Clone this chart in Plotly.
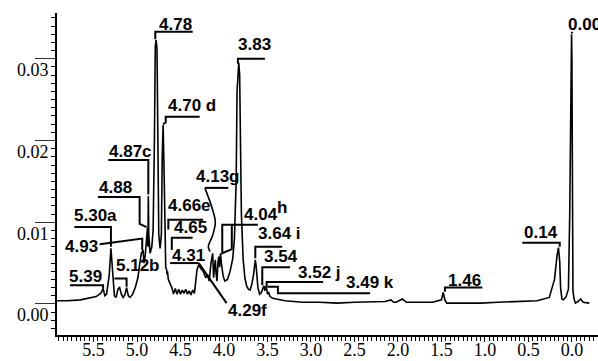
import plotly.graph_objects as go

# 1H NMR spectrum trace: chemical shift (ppm) and intensity
ppm = [
    5.92, 5.80, 5.65, 5.55, 5.47, 5.43, 5.41, 5.39, 5.37, 5.35, 5.32, 5.30, 5.28,
    5.26, 5.24, 5.22, 5.20, 5.18, 5.16, 5.14, 5.12, 5.10, 5.08, 5.05, 5.02, 4.99,
    4.97, 4.95, 4.93, 4.92, 4.905, 4.89, 4.88, 4.875, 4.87, 4.865, 4.85, 4.83,
    4.815, 4.80, 4.79, 4.78, 4.77, 4.76, 4.75, 4.735, 4.72, 4.71, 4.70, 4.69,
    4.68, 4.67, 4.66, 4.655, 4.65, 4.64, 4.62, 4.60, 4.58, 4.56, 4.54, 4.52, 4.50,
    4.48, 4.46, 4.44, 4.42, 4.40, 4.38, 4.36, 4.34, 4.33, 4.31, 4.29, 4.27, 4.24,
    4.21, 4.19, 4.17, 4.15, 4.14, 4.13, 4.12, 4.11, 4.10, 4.09, 4.08, 4.07, 4.06,
    4.05, 4.04, 4.03, 4.01, 3.99, 3.96, 3.93, 3.90, 3.88, 3.86, 3.85, 3.84, 3.83,
    3.82, 3.81, 3.80, 3.78, 3.76, 3.74, 3.72, 3.70, 3.68, 3.66, 3.65, 3.64, 3.63,
    3.62, 3.61, 3.59, 3.57, 3.55, 3.54, 3.53, 3.52, 3.51, 3.50, 3.49, 3.47, 3.44,
    3.40, 3.35, 3.30, 3.20, 3.10, 2.90, 2.70, 2.50, 2.30, 2.15, 2.08, 2.05, 2.02,
    1.95, 1.90, 1.87, 1.75, 1.60, 1.50, 1.48, 1.46, 1.44, 1.42, 1.25, 1.05, 0.85,
    0.60, 0.40, 0.26, 0.20, 0.17, 0.155, 0.14, 0.13, 0.115, 0.10, 0.07, 0.04,
    0.025, 0.012, 0.004, 0.00, -0.004, -0.012, -0.025, -0.04, -0.07, -0.10, -0.13,
    -0.17, -0.20, -0.25, -0.30,
]
intensity = [
    0.0004, 0.0004, 0.0005, 0.0007, 0.0009, 0.0012, 0.0014, 0.0019, 0.0010, 0.0012,
    0.0035, 0.0068, 0.0035, 0.0010, 0.0008, 0.0018, 0.0020, 0.0012, 0.0008, 0.0011,
    0.0020, 0.0010, 0.0008, 0.0012, 0.0020, 0.0032, 0.0048, 0.0062, 0.0066, 0.0050,
    0.0060, 0.0085, 0.0093, 0.0070, 0.0132, 0.0085, 0.0062, 0.0070, 0.0090, 0.0200,
    0.0315, 0.0323, 0.0312, 0.0200, 0.0085, 0.0068, 0.0085, 0.0180, 0.0219, 0.0170,
    0.0070, 0.0045, 0.0042, 0.0036, 0.0040, 0.0030, 0.0025, 0.0020, 0.0012, 0.0019,
    0.0012, 0.0018, 0.0012, 0.0017, 0.0013, 0.0018, 0.0012, 0.0016, 0.0011, 0.0017,
    0.0013, 0.0025, 0.0042, 0.0048, 0.0044, 0.0040, 0.0032, 0.0036, 0.0028, 0.0050,
    0.0058, 0.0062, 0.0032, 0.0040, 0.0054, 0.0036, 0.0028, 0.0050, 0.0058, 0.0045,
    0.0062, 0.0050, 0.0034, 0.0028, 0.0030, 0.0040, 0.0055, 0.0080, 0.0150, 0.0260,
    0.0290, 0.0295, 0.0280, 0.0180, 0.0110, 0.0055, 0.0032, 0.0022, 0.0018, 0.0017,
    0.0024, 0.0036, 0.0048, 0.0054, 0.0046, 0.0032, 0.0020, 0.0012, 0.0014, 0.0020,
    0.0022, 0.0016, 0.0021, 0.0019, 0.0012, 0.0015, 0.0009, 0.0007, 0.0006, 0.0005,
    0.0004, 0.0003, 0.0002, 0.0002, 0.0001, 0.0002, 0.0003, 0.0003, 0.0005, 0.0002,
    0.0002, 0.0006, 0.0002, 0.0002, 0.0002, 0.0002, 0.0005, 0.0014, 0.0005, 0.0001,
    0.0001, 0.0001, 0.0001, 0.0002, 0.0003, 0.0004, 0.0008, 0.0030, 0.0060, 0.0069,
    0.0052, 0.0020, 0.0006, 0.0005, 0.0008, 0.0018, 0.0110, 0.0300, 0.0330, 0.0300,
    0.0100, 0.0016, 0.0006, 0.0001, 0.0003, 0.0006, 0.0002, 0.0001, 0.0001,
]

# Assigned peaks
peak_labels = ["5.39", "5.30a", "5.12b", "4.93", "4.88", "4.87c", "4.78", "4.70 d",
               "4.66e", "4.65", "4.31", "4.29f", "4.13g", "4.04", "3.83", "3.64 i",
               "3.54", "3.52 j", "3.49 k", "1.46", "0.14", "0.00"]

# Axis ticks
x_tickvals = [5.5, 5.0, 4.5, 4.0, 3.5, 3.0, 2.5, 2.0, 1.5, 1.0, 0.5, 0.0]
y_tickvals = [0.00, 0.01, 0.02, 0.03]

# Label placement: text anchor (left, middle) and bracket/leader polyline
label_layout = {
    "5.39":   ((5.79, 0.0033), [(5.77, 0.0023), (5.39, 0.0023), (5.39, 0.0019)]),
    "5.30a":  ((5.74, 0.0108), [(5.72, 0.0094), (5.30, 0.0094), (5.30, 0.0070)]),
    "5.12b":  ((5.25, 0.0047), [(5.26, 0.0031), (5.12, 0.0031), (5.12, 0.0021)]),
    "4.93":   ((5.84, 0.0070), [(5.43, 0.0073), (4.94, 0.0080), (4.94, 0.0066)]),
    "4.88":   ((5.45, 0.0143), [(5.45, 0.0131), (4.97, 0.0131), (4.97, 0.0098), (4.89, 0.0094)]),
    "4.87c":  ((5.33, 0.0186), [(5.33, 0.0176), (4.87, 0.0176), (4.87, 0.0134)]),
    "4.78":   ((4.76, 0.0342), [(4.36, 0.0333), (4.79, 0.0333), (4.79, 0.0324)]),
    "4.70 d": ((4.655, 0.0243), [(4.28, 0.0229), (4.67, 0.0229), (4.67, 0.0222), (4.70, 0.0220)]),
    "4.66e":  ((4.655, 0.0121), [(4.24, 0.0103), (4.64, 0.0103), (4.64, 0.0091)]),
    "4.65":   ((4.59, 0.0094), [(4.36, 0.0081), (4.60, 0.0081), (4.60, 0.0066)]),
    "4.31":   ((4.61, 0.0059), [(4.62, 0.0050), (4.29, 0.0050)]),
    "4.29f":  ((3.97, -0.0008), [(4.29, 0.0050), (3.97, 0.0001)]),
    "4.13g":  ((4.33, 0.0156), [(3.95, 0.0142), (4.22, 0.0142)]),
    "4.04":   ((3.78, 0.0110), [(3.61, 0.0097), (4.02, 0.0097), (4.02, 0.0062), (3.91, 0.0067),
                                (3.91, 0.0097)]),
    "3.83":   ((3.85, 0.0318), [(3.53, 0.0300), (3.84, 0.0300), (3.84, 0.0294)]),
    "3.64 i": ((3.62, 0.0086), [(3.33, 0.0070), (3.64, 0.0070), (3.64, 0.0056)]),
    "3.54":   ((3.55, 0.0058), [(3.24, 0.0045), (3.56, 0.0045), (3.56, 0.0023)]),
    "3.52 j": ((3.16, 0.0039), [(2.86, 0.0027), (3.51, 0.0027), (3.51, 0.0020)]),
    "3.49 k": ((2.61, 0.0026), [(3.50, 0.0021), (3.38, 0.0021), (3.38, 0.0013), (2.32, 0.0013)]),
    "1.46":   ((1.44, 0.0029), [(1.03, 0.0020), (1.46, 0.0020), (1.46, 0.0015)]),
    "0.14":   ((0.56, 0.0088), [(0.57, 0.0075), (0.14, 0.0075), (0.14, 0.0070)]),
    "0.00":   ((0.06, 0.0342), [(0.00, 0.0333), (0.00, 0.0331)]),
}
# curved leader for 4.13g
g_leader = [(4.22, 0.0142), (4.13, 0.0115), (4.10, 0.0100), (4.13, 0.0084),
            (4.18, 0.0070), (4.16, 0.0064)]

fig = go.Figure()
fig.add_trace(go.Scatter(x=ppm, y=intensity, mode="lines",
                         line=dict(color="black", width=1.6), hoverinfo="skip"))

bx, by = [], []
for lab in peak_labels:
    _, pts = label_layout[lab]
    for px, py in pts:
        bx.append(px)
        by.append(py)
    bx.append(None)
    by.append(None)
fig.add_trace(go.Scatter(x=bx, y=by, mode="lines",
                         line=dict(color="black", width=2), hoverinfo="skip"))
fig.add_trace(go.Scatter(x=[p[0] for p in g_leader], y=[p[1] for p in g_leader],
                         mode="lines", line=dict(color="black", width=1.6, shape="spline"),
                         hoverinfo="skip"))

label_font = dict(family="Liberation Sans", size=17, color="black", weight="bold")
for lab in peak_labels:
    (tx, ty), _ = label_layout[lab]
    fig.add_annotation(x=tx, y=ty, text=lab, showarrow=False, xanchor="left",
                       yanchor="middle", font=label_font, borderpad=0)
fig.add_annotation(x=3.40, y=0.0118, text="h", showarrow=False, xanchor="left",
                   yanchor="middle", font=label_font, borderpad=0)

tick_font = dict(family="Liberation Serif", size=18, color="black")
fig.update_layout(
    width=598, height=361,
    margin=dict(l=57, r=0, t=13, b=26),
    paper_bgcolor="white", plot_bgcolor="white",
    showlegend=False,
    xaxis=dict(
        range=[5.92, -0.30], tickvals=x_tickvals, tickformat=".1f", automargin=False,
        showgrid=False, zeroline=False, showline=True, linecolor="black", linewidth=2,
        ticks="outside", ticklen=5, tickwidth=1, tickcolor="black",
        minor=dict(dtick=0.05, ticks="outside", ticklen=4, tickwidth=1, tickcolor="black"),
        tickfont=tick_font, ticklabelstandoff=-8,
    ),
    yaxis=dict(
        range=[-0.0038, 0.0356], tickvals=y_tickvals, tickformat=".2f", automargin=False,
        showgrid=False, zeroline=False, showline=True, linecolor="black", linewidth=2,
        ticks="outside", ticklen=20, tickwidth=1, tickcolor="#333",
        minor=dict(dtick=0.001, ticks="outside", ticklen=4, tickwidth=1, tickcolor="black"),
        tickfont=tick_font, ticklabelshift=11, ticklabelstandoff=-17,
    ),
)

fig.write_html("out.html")
